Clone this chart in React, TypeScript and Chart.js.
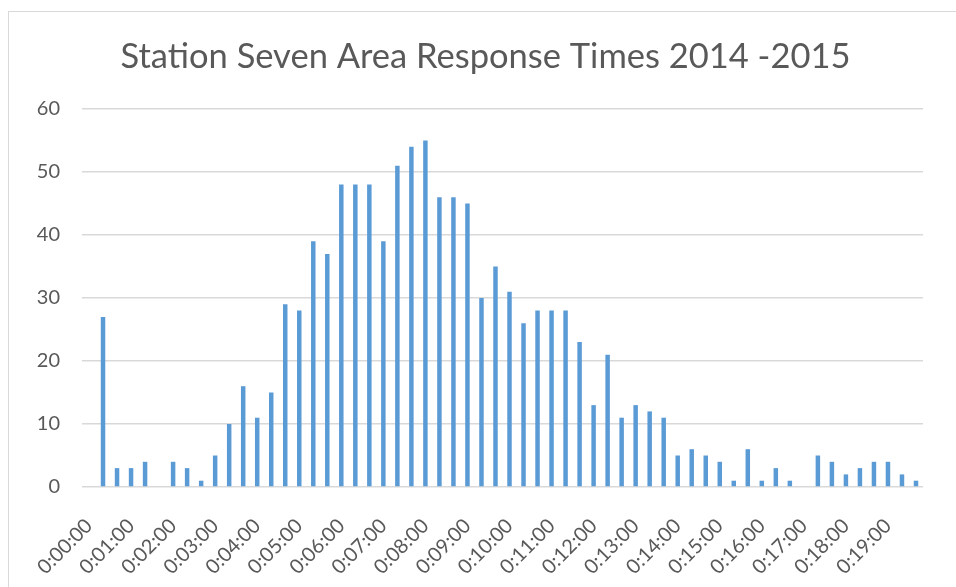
import React, { useEffect, useRef } from "react";
import { Chart, registerables } from "chart.js";

Chart.register(...registerables);

const TITLE = "Station Seven Area Response Times 2014 -2015";

// 20-second bins from 0:00:00 to 0:19:40
const binSeconds: number[] = [
  0, 20, 40, 60, 80, 100, 120, 140, 160, 180, 200, 220, 240, 260, 280, 300, 320, 340, 360, 380,
  400, 420, 440, 460, 480, 500, 520, 540, 560, 580, 600, 620, 640, 660, 680, 700, 720, 740, 760, 780,
  800, 820, 840, 860, 880, 900, 920, 940, 960, 980, 1000, 1020, 1040, 1060, 1080, 1100, 1120, 1140, 1160, 1180,
];

const counts: number[] = [
  0, 27, 3, 3, 4, 0, 4, 3, 1, 5, 10, 16, 11, 15, 29, 28, 39, 37, 48, 48,
  48, 39, 51, 54, 55, 46, 46, 45, 30, 35, 31, 26, 28, 28, 28, 23, 13, 21, 11, 13,
  12, 11, 5, 6, 5, 4, 1, 6, 1, 3, 1, 0, 5, 4, 2, 3, 4, 4, 2, 1,
];

const yTicks: number[] = [0, 10, 20, 30, 40, 50, 60];

const fmt = (s: number) => {
  const h = Math.floor(s / 3600);
  const m = Math.floor((s % 3600) / 60);
  const sec = s % 60;
  return `${h}:${String(m).padStart(2, "0")}:${String(sec).padStart(2, "0")}`;
};
const categories: string[] = binSeconds.map(fmt);

const TEXT = "#595959";
const GRID = "#d9d9d9";
const BAR = "#5b9bd5";
const FONT = "Lato, 'Open Sans', sans-serif";

const titlePlugin = {
  id: "customTitle",
  afterDraw(chart: any) {
    const ctx = chart.ctx;
    ctx.save();
    ctx.font = `400 34.5px ${FONT}`;
    ctx.fillStyle = TEXT;
    ctx.textAlign = "center";
    ctx.textBaseline = "alphabetic";
    ctx.fillText(TITLE, 485.5, 67.5);
    ctx.restore();
  },
};

export default function App() {
  const ref = useRef<HTMLCanvasElement | null>(null);

  useEffect(() => {
    if (!ref.current) return;
    const chart = new Chart(ref.current, {
      type: "bar",
      data: {
        labels: categories,
        datasets: [
          {
            data: counts,
            backgroundColor: BAR,
            borderWidth: 0,
            barPercentage: 0.32,
            categoryPercentage: 1,
          },
        ],
      },
      plugins: [titlePlugin],
      options: {
        animation: false,
        responsive: false,
        devicePixelRatio: 1,
        layout: { padding: { left: 0, right: 33, top: 109, bottom: 0 } },
        plugins: {
          legend: { display: false },
          tooltip: { enabled: false },
          title: { display: false },
        },
        scales: {
          x: {
            grid: { display: false },
            border: { display: false },
            ticks: {
              autoSkip: false,
              maxRotation: 45,
              minRotation: 45,
              padding: 19,
              color: TEXT,
              font: { family: FONT, size: 20 },
              callback: (_v: any, i: number) => (i % 3 === 0 ? categories[i] : ""),
            },
            afterFit: (scale: any) => {
              scale.height = 100;
            },
          },
          y: {
            min: 0,
            max: 60,
            afterBuildTicks: (scale: any) => {
              scale.ticks = yTicks.map((v) => ({ value: v }));
            },
            grid: { color: GRID, lineWidth: 1.5, drawTicks: false },
            border: { display: false },
            ticks: {
              padding: 22,
              color: TEXT,
              font: { family: FONT, size: 20 },
            },
            afterFit: (scale: any) => {
              scale.width = 82;
            },
          },
        },
      },
    });
    return () => chart.destroy();
  }, []);

  return (
    <div
      style={{
        position: "fixed",
        left: 0,
        top: 0,
        width: 956,
        height: 587,
        overflow: "hidden",
        background: "#fff",
      }}
    >
      <div
        style={{
          position: "absolute",
          left: 8,
          top: 11,
          width: 1200,
          height: 1200,
          border: "1px solid #d9d9d9",
          boxSizing: "border-box",
        }}
      />
      <canvas
        ref={ref}
        width={956}
        height={587}
        style={{ position: "absolute", left: 0, top: 0, width: 956, height: 587 }}
      />
    </div>
  );
}
